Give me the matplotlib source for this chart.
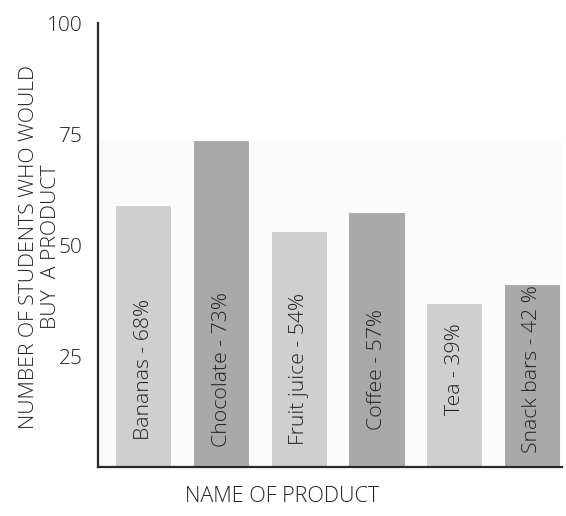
import matplotlib.pyplot as plt
from matplotlib.patches import Rectangle

plt.rcParams['font.family'] = ['Open Sans', 'DejaVu Sans']
plt.rcParams['font.weight'] = 'light'

# Survey data
products = ['Bananas', 'Chocolate', 'Fruit juice', 'Coffee', 'Tea', 'Snack bars']
percent_labels = ['68%', '73%', '54%', '57%', '39%', '42 %']
students = [58.8, 73.4, 53.0, 57.3, 36.7, 40.9]

light = '#cfcfcf'
dark = '#a9a9a9'
bar_colors = [light, dark, light, dark, light, dark]
text_color = '#222222'

fig = plt.figure(figsize=(5.66, 5.16), dpi=100)
ax = fig.add_axes([0.173, 0.095, 0.820, 0.860])

# faint panel behind the bars
ax.add_patch(Rectangle((-0.62, 0), 6.0, 73.4, color='#fbfbfb', zorder=0, lw=0))

x = range(len(products))
ax.bar(x, students, width=0.71, color=bar_colors, zorder=2)

for i, (name, pct) in enumerate(zip(products, percent_labels)):
    ax.text(i, 22, f'{name} - {pct}', rotation=90, ha='center', va='center',
            fontsize=15.3, color=text_color, zorder=3)

ax.set_xlim(-0.59, 5.38)
ax.set_ylim(0, 100)
ax.set_yticks([25, 50, 75, 100])
ax.set_xticks([])
ax.tick_params(axis='y', length=0, pad=11, labelsize=15, labelcolor=text_color)

for side in ['top', 'right']:
    ax.spines[side].set_visible(False)
for side in ['left', 'bottom']:
    ax.spines[side].set_color('#2a2a2a')
    ax.spines[side].set_linewidth(1.6)

fig.text(40 / 566, 1 - 247 / 516, 'NUMBER OF STUDENTS WHO WOULD\nBUY  A PRODUCT',
         rotation=90, ha='center', va='center', multialignment='center',
         fontsize=15.3, color=text_color, linespacing=1.12)
fig.text(282 / 566, 1 - 497 / 516, 'NAME OF PRODUCT', ha='center', va='center',
         fontsize=15.5, color=text_color)

fig.savefig('out.png', dpi=100)
